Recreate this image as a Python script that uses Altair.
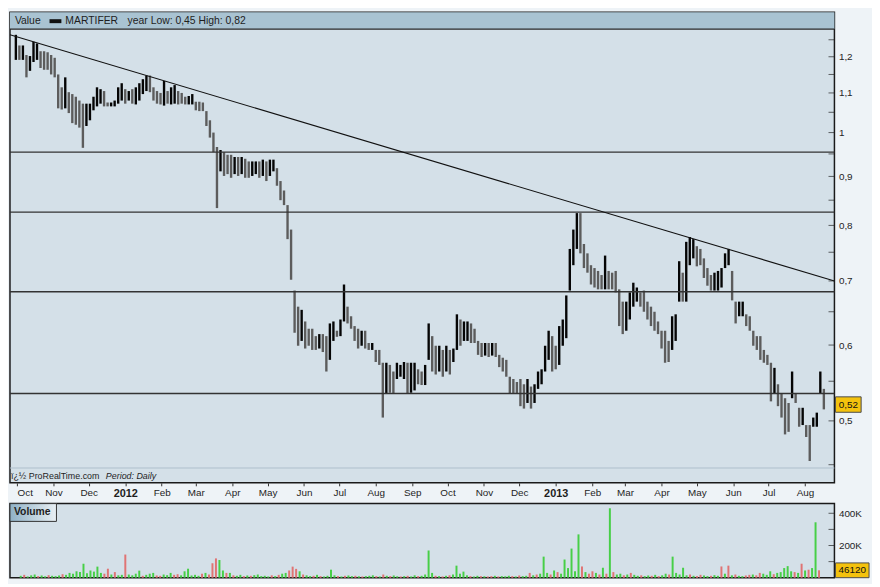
import altair as alt
import pandas as pd

# ---------------- data ----------------
highs = [
    1.265, 1.233, 1.233, 1.205, 1.202, 1.244, 1.239, 1.216, 1.216, 1.213,
    1.205, 1.197, 1.150, 1.115, 1.142, 1.102, 1.097, 1.090, 1.080, 1.072,
    1.072, 1.072, 1.090, 1.115, 1.110, 1.105, 1.075, 1.075, 1.080, 1.115,
    1.126, 1.110, 1.105, 1.110, 1.115, 1.126, 1.137, 1.147, 1.147, 1.115,
    1.105, 1.100, 1.132, 1.105, 1.115, 1.121, 1.105, 1.100, 1.090, 1.092,
    1.097, 1.077, 1.077, 1.075, 1.053, 1.030, 1.000, 0.966, 0.959, 0.954,
    0.948, 0.948, 0.943, 0.943, 0.943, 0.939, 0.933, 0.933, 0.933, 0.933,
    0.937, 0.933, 0.937, 0.937, 0.918, 0.890, 0.870, 0.840, 0.792, 0.684,
    0.658, 0.653, 0.635, 0.624, 0.624, 0.613, 0.616, 0.616, 0.613, 0.632,
    0.635, 0.621, 0.638, 0.694, 0.658, 0.643, 0.628, 0.624, 0.621, 0.621,
    0.603, 0.603, 0.593, 0.593, 0.575, 0.575, 0.572, 0.563, 0.575, 0.572,
    0.576, 0.575, 0.575, 0.575, 0.566, 0.563, 0.572, 0.632, 0.613, 0.599,
    0.599, 0.593, 0.599, 0.593, 0.595, 0.646, 0.638, 0.635, 0.635, 0.632,
    0.624, 0.606, 0.603, 0.603, 0.603, 0.603, 0.603, 0.586, 0.582, 0.579,
    0.556, 0.553, 0.549, 0.553, 0.546, 0.553, 0.543, 0.546, 0.563, 0.566,
    0.599, 0.621, 0.613, 0.599, 0.628, 0.638, 0.676, 0.756, 0.792, 0.824,
    0.824, 0.765, 0.748, 0.727, 0.722, 0.717, 0.710, 0.744, 0.717, 0.714,
    0.717, 0.686, 0.666, 0.666, 0.681, 0.697, 0.689, 0.681, 0.684, 0.666,
    0.658, 0.650, 0.635, 0.621, 0.621, 0.606, 0.643, 0.646, 0.734, 0.714,
    0.769, 0.778, 0.774, 0.761, 0.756, 0.739, 0.722, 0.710, 0.714, 0.717,
    0.722, 0.748, 0.756, 0.717, 0.666, 0.666, 0.666, 0.646, 0.643, 0.621,
    0.613, 0.613, 0.593, 0.586, 0.575, 0.568, 0.546, 0.534, 0.528, 0.522,
    0.563, 0.534, 0.516, 0.516, 0.495, 0.495, 0.504, 0.510, 0.563, 0.540,
]
lows = [
    1.191, 1.191, 1.191, 1.142, 1.160, 1.185, 1.191, 1.168, 1.163, 1.163,
    1.150, 1.142, 1.060, 1.057, 1.060, 1.048, 1.023, 1.019, 1.012, 0.964,
    1.016, 1.030, 1.055, 1.065, 1.072, 1.065, 1.065, 1.065, 1.065, 1.072,
    1.080, 1.072, 1.080, 1.072, 1.070, 1.080, 1.097, 1.105, 1.102, 1.080,
    1.072, 1.070, 1.067, 1.072, 1.070, 1.072, 1.070, 1.072, 1.070, 1.070,
    1.070, 1.055, 1.053, 1.053, 1.016, 0.988, 0.954, 0.834, 0.911, 0.901,
    0.905, 0.897, 0.905, 0.901, 0.905, 0.897, 0.897, 0.901, 0.905, 0.897,
    0.901, 0.890, 0.901, 0.911, 0.880, 0.850, 0.840, 0.774, 0.702, 0.618,
    0.599, 0.606, 0.595, 0.599, 0.593, 0.593, 0.595, 0.590, 0.563, 0.579,
    0.606, 0.612, 0.613, 0.635, 0.632, 0.624, 0.606, 0.595, 0.599, 0.595,
    0.593, 0.593, 0.576, 0.572, 0.504, 0.534, 0.535, 0.534, 0.553, 0.556,
    0.553, 0.534, 0.535, 0.538, 0.546, 0.545, 0.545, 0.579, 0.563, 0.559,
    0.563, 0.556, 0.563, 0.559, 0.576, 0.593, 0.599, 0.606, 0.606, 0.603,
    0.603, 0.586, 0.583, 0.585, 0.583, 0.585, 0.583, 0.569, 0.563, 0.556,
    0.534, 0.534, 0.534, 0.518, 0.515, 0.522, 0.515, 0.522, 0.540, 0.546,
    0.563, 0.579, 0.563, 0.566, 0.572, 0.599, 0.610, 0.684, 0.727, 0.756,
    0.748, 0.722, 0.714, 0.694, 0.689, 0.686, 0.686, 0.686, 0.686, 0.686,
    0.681, 0.628, 0.616, 0.621, 0.638, 0.658, 0.666, 0.658, 0.650, 0.638,
    0.628, 0.621, 0.616, 0.595, 0.575, 0.576, 0.593, 0.606, 0.666, 0.666,
    0.666, 0.727, 0.739, 0.725, 0.727, 0.705, 0.692, 0.684, 0.684, 0.684,
    0.689, 0.722, 0.727, 0.668, 0.632, 0.643, 0.643, 0.628, 0.621, 0.599,
    0.593, 0.579, 0.575, 0.572, 0.524, 0.534, 0.518, 0.504, 0.484, 0.487,
    0.528, 0.522, 0.493, 0.495, 0.481, 0.454, 0.493, 0.493, 0.534, 0.514,
]
# volume, thousands of shares
volume_k = [
    12, 18, 8, 15, 20, 10, 14, 9, 16, 12,
    10, 14, 22, 18, 30, 25, 40, 35, 87, 28,
    45, 38, 69, 30, 25, 56, 20, 35, 15, 18,
    144, 20, 15, 25, 44, 12, 18, 25, 30, 14,
    12, 20, 16, 30, 18, 22, 15, 40, 56, 14,
    18, 12, 25, 30, 20, 90, 120, 110, 45, 30,
    30, 15, 12, 18, 10, 14, 12, 16, 20, 10,
    12, 8, 15, 10, 18, 25, 30, 45, 69, 55,
    40, 20, 15, 10, 12, 18, 10, 8, 12, 50,
    15, 10, 8, 12, 14, 10, 12, 9, 8, 10,
    12, 15, 10, 8, 20, 12, 10, 14, 9, 8,
    10, 12, 8, 15, 10, 12, 20, 169, 30, 12,
    10, 8, 12, 15, 20, 75, 25, 38, 15, 10,
    8, 12, 10, 9, 8, 10, 12, 8, 10, 9,
    12, 10, 8, 14, 10, 12, 30, 15, 20, 25,
    131, 30, 20, 45, 35, 25, 113, 60, 181, 40,
    269, 70, 35, 25, 40, 30, 20, 62, 25, 431,
    35, 20, 25, 15, 20, 30, 18, 12, 15, 10,
    14, 12, 18, 10, 15, 25, 20, 131, 30, 20,
    62, 15, 20, 12, 10, 18, 14, 10, 12, 16,
    12, 70, 25, 75, 15, 20, 12, 10, 14, 18,
    20, 15, 30, 25, 18, 40, 22, 30, 35, 60,
    72, 40, 35, 30, 87, 45, 50, 60, 344, 46.12,
]
# g = up-volume (green), r = down-volume (red)
volume_dir = (
    "grgggrggrg" "ggrggggggg" "ggggrrgrgg" "rggggrgggr" "rgggrrgggg"
    "ggrgrrrggr" "grggrgrggg" "ggrgrggrrr" "grggrgrggg" "grgrggrgrg"
    "ggrgrgrggr" "grggrggggr" "grgrgggggr" "ggrgrrgrgg" "grgrggrgrg"
    "ggrgrggggg" "grgrrgrgrg" "rggrgrggrg" "grgrggrggg" "ggrgrrggrg"
    "grgrgrggrr" "grrgggrggg" "ggrgrgrggr"
)
support_levels = [0.954, 0.826, 0.682, 0.534]
trend_dates = ["2011-09-25", "2013-08-26"]
trend_values = [1.265, 0.700]
price_labels = [0.5, 0.6, 0.7, 0.8, 0.9, 1.0, 1.1, 1.2]
price_minor = [0.45, 0.5, 0.55, 0.6, 0.65, 0.7, 0.75, 0.8, 0.85, 0.9, 0.95,
               1.0, 1.05, 1.1, 1.15, 1.2, 1.25]
volume_labels = [200, 400]
volume_minor = [100, 200, 300, 400]
last_price = 0.52
last_volume = 46120
instrument = "MARTIFER"
year_low, year_high = 0.45, 0.82

# ---------------- build ----------------
dates = pd.date_range("2011-09-30", periods=len(highs), freq="3D")
df = pd.DataFrame({"date": dates, "high": highs, "low": lows,
                   "vol": volume_k, "vdir": list(volume_dir)})
mid = (df["high"] + df["low"]) / 2
df["dir"] = ["up" if (i == 0 or mid[i] >= mid[i - 1]) else "down" for i in range(len(df))]

W, H, VH, HEAD = 834, 476, 75, 17
FONT = "Liberation Sans"
xscale = alt.Scale(domain=[alt.DateTime(year=2011, month=9, date=25),
                           alt.DateTime(year=2013, month=8, date=26)])
yscale = alt.Scale(type="log", domain=[0.4308, 1.3354], nice=False, zero=False)
vscale = alt.Scale(domain=[0, 460], nice=False, zero=True)
months = [alt.DateTime(year=d.year, month=d.month, date=1)
          for d in pd.date_range("2011-10-01", "2013-08-01", freq="MS")]

one = pd.DataFrame({"k": [0]})


def fixed_text(text, x, y, size=10.5, **kw):
    return alt.Chart(one).mark_text(text=text, align="left", baseline="middle",
                                    fontSize=size, color="#1e1e1e", font=FONT, **kw
                                    ).encode(x=alt.value(x), y=alt.value(y))


fmt = lambda v: f"{v:.2f}".replace(".", ",")

x_axis = alt.Axis(values=months, title=None, grid=False, domain=False,
                  tickSize=3, tickColor="#333", labelPadding=2, labelFlush=10,
                  labelColor="#1e1e1e", labelFont=FONT,
                  labelExpr="month(datum.value) == 0 ? timeFormat(datum.value, '%Y') : timeFormat(datum.value, '%b')",
                  labelFontWeight={"condition": {"test": "month(datum.value) == 0", "value": "bold"}, "value": "normal"},
                  labelFontSize={"condition": {"test": "month(datum.value) == 0", "value": 11}, "value": 10})
y_axis = alt.Axis(orient="right", values=price_labels, title=None, grid=False,
                  ticks=False, domain=False, labelPadding=4, labelFontSize=10,
                  labelColor="#1e1e1e", labelFont=FONT,
                  labelExpr="replace(format(datum.value, '.2~f'), '.', ',')")
v_axis = alt.Axis(orient="right", values=volume_labels, title=None, grid=False,
                  ticks=False, domain=False, labelPadding=4, labelFontSize=10,
                  labelColor="#1e1e1e", labelFont=FONT, labelExpr="datum.value + 'K'")


def PX(field):
    return alt.X(field, type="temporal", scale=xscale, axis=x_axis)


def PY(field):
    return alt.Y(field, type="quantitative", scale=yscale, axis=y_axis)


def VY(field):
    return alt.Y(field, type="quantitative", scale=vscale, axis=v_axis)


header_bg = alt.Chart(one).mark_rect(color="#a9c3d2").encode(
    x=alt.value(0), x2=alt.value(W), y=alt.value(0), y2=alt.value(HEAD))
header_line = alt.Chart(one).mark_rule(color="#2a2a2a", strokeWidth=1.2).encode(y=alt.value(HEAD))
header_dash = alt.Chart(one).mark_rect(color="#111").encode(
    x=alt.value(40), x2=alt.value(52), y=alt.value(7), y2=alt.value(11))
t_value = fixed_text("Value", 5, 9)
t_name = fixed_text(instrument, 56, 9)
t_range = fixed_text(f"year Low: {fmt(year_low)} High: {fmt(year_high)}", 119, 9)

bars = alt.Chart(df).mark_rule(strokeWidth=2.4).encode(
    x=PX("date"),
    y=PY("low"),
    y2="high:Q",
    color=alt.Color("dir:N", scale=alt.Scale(domain=["up", "down"], range=["#050505", "#5c5c5c"]), legend=None),
)

support = alt.Chart(pd.DataFrame({"level": support_levels})).mark_rule(
    color="#333333", strokeWidth=1.3).encode(y=PY("level"))

trend = alt.Chart(pd.DataFrame({"date": pd.to_datetime(trend_dates), "value": trend_values})
                  ).mark_line(color="#111111", strokeWidth=1.1, clip=True).encode(
    x=PX("date"), y=PY("value"))

pticks = alt.Chart(pd.DataFrame({"t": price_minor})).mark_tick(
    orient="horizontal", size=6, thickness=1, color="#222").encode(
    y=PY("t"), x=alt.value(W - 3))

footer_line = alt.Chart(one).mark_rule(color="#aebfcc", strokeWidth=1).encode(y=alt.value(461))
footer1 = fixed_text("ï¿½ ProRealTime.com", 1, 469, size=9)
footer2 = fixed_text("Period: Daily", 97, 469, size=9, fontStyle="italic")

lp = pd.DataFrame({"v": [last_price], "txt": [fmt(last_price)]})
lp_box = alt.Chart(lp).mark_point(shape="M-1,-0.6L1,-0.6L1,0.6L-1,0.6Z", size=26 * 26,
                                  filled=True, color="#f4c20d", stroke="#4a4a4a",
                                  strokeWidth=1, opacity=1).encode(
    x=alt.value(W + 14), y=PY("v"))
lp_txt = alt.Chart(lp).mark_text(fontSize=10, color="#111", font=FONT).encode(
    x=alt.value(W + 14), y=PY("v"), text="txt:N")

price = alt.layer(header_bg, header_line, header_dash, t_value, t_name, t_range,
                  footer_line, footer1, footer2,
                  bars, support, trend, pticks, lp_box, lp_txt
                  ).properties(width=W, height=H)

# ---------------- volume panel ----------------
vbars = alt.Chart(df).mark_bar(width=2).encode(
    x=alt.X("date:T", scale=xscale, axis=None),
    y=VY("vol"),
    color=alt.Color("vdir:N", scale=alt.Scale(domain=["g", "r"], range=["#47cf47", "#e07474"]), legend=None),
)
vticks = alt.Chart(pd.DataFrame({"t": volume_minor})).mark_tick(
    orient="horizontal", size=6, thickness=1, color="#222").encode(
    y=VY("t"), x=alt.value(W - 3))
grad = alt.LinearGradient(gradient="linear", x1=0, y1=0, x2=1, y2=0,
                          stops=[alt.GradientStop(color="#8fb1c6", offset=0),
                                 alt.GradientStop(color="#e9f0f4", offset=1)])
vol_box = alt.Chart(one).mark_rect(color=grad, stroke="#333", strokeWidth=1).encode(
    x=alt.value(0), x2=alt.value(47), y=alt.value(0), y2=alt.value(18))
vol_txt = fixed_text("Volume", 4, 9, size=10.5, fontWeight="bold")
lv = pd.DataFrame({"v": [last_volume / 1000], "txt": [str(last_volume)]})
lv_box = alt.Chart(lv).mark_point(shape="M-1,-0.44L1,-0.44L1,0.44L-1,0.44Z", size=34 * 34,
                                  filled=True, color="#f4c20d", stroke="#4a4a4a",
                                  strokeWidth=1, opacity=1).encode(
    x=alt.value(W + 18), y=VY("v"))
lv_txt = alt.Chart(lv).mark_text(fontSize=10, color="#111", font=FONT).encode(
    x=alt.value(W + 18), y=VY("v"), text="txt:N")

volume = alt.layer(vbars, vticks, vol_box, vol_txt, lv_box, lv_txt).properties(width=W, height=VH)

chart = (
    alt.vconcat(price, volume, spacing=2)
    .resolve_scale(color="independent")
    .properties(background="#eef3f7", padding=0)
    .configure(font=FONT)
    .configure_view(stroke="#1a1a1a", strokeWidth=1.5, fill="#d4e0e8")
)

chart.save("out.html", embed_options={"renderer": "svg", "actions": False})
